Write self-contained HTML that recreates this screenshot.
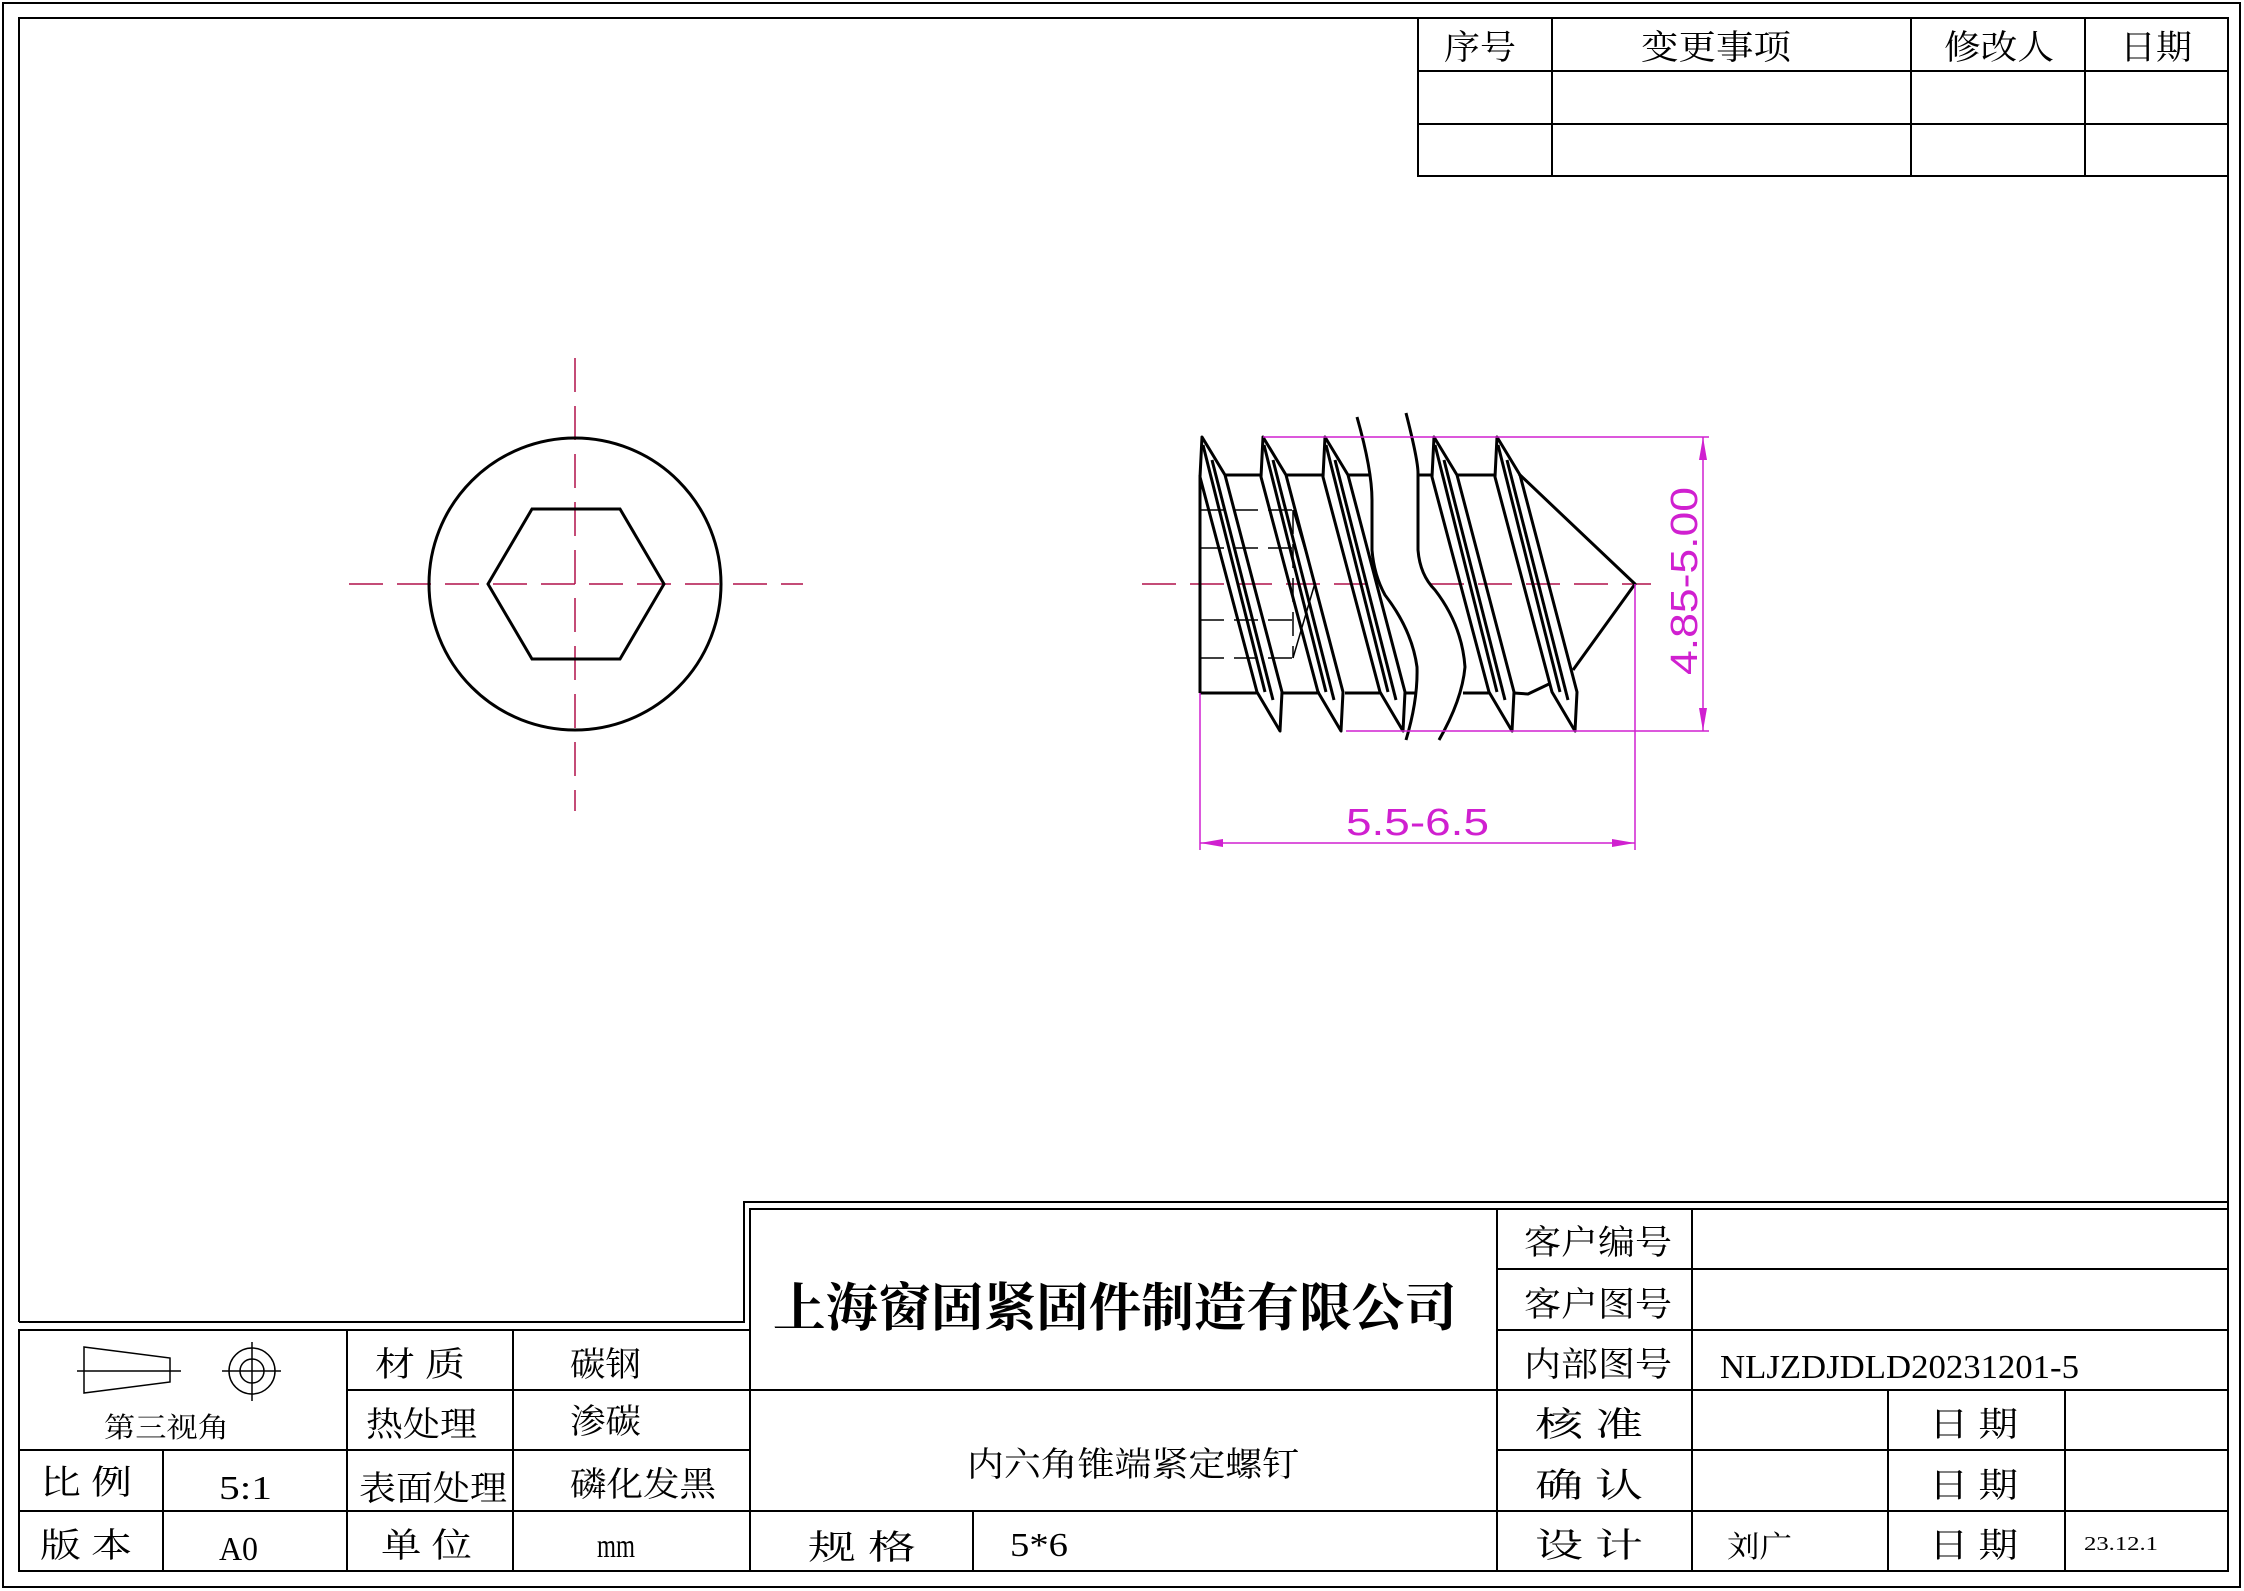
<!DOCTYPE html>
<html><head><meta charset="utf-8"><style>
html,body{margin:0;padding:0;background:#fff;}
svg{display:block;}
text{font-family:"Liberation Serif","Noto Serif CJK SC",serif;fill:#000;}
</style></head><body>
<svg width="2244" height="1591" viewBox="0 0 2244 1591" xmlns="http://www.w3.org/2000/svg">
<rect width="2244" height="1591" fill="#fff"/>
<g fill="none" stroke="#000" stroke-width="2">
<rect x="3" y="3" width="2237" height="1584"/>
<polyline points="19,1322 19,18 2228,18 2228,1571 19,1571 19,1330 750,1330"/>
<polyline points="19,1322 744,1322 744,1202 2228,1202"/>
<polyline points="750,1571 750,1209 2228,1209"/>
<rect x="1418" y="18" width="810" height="158"/>
<line x1="1418" y1="71" x2="2228" y2="71"/><line x1="1418" y1="124" x2="2228" y2="124"/>
<line x1="1552" y1="18" x2="1552" y2="176"/><line x1="1911" y1="18" x2="1911" y2="176"/><line x1="2085" y1="18" x2="2085" y2="176"/>
<line x1="347" y1="1390" x2="750" y2="1390"/>
<line x1="19" y1="1450" x2="750" y2="1450"/>
<line x1="1497" y1="1450" x2="2228" y2="1450"/>
<line x1="19" y1="1511" x2="2228" y2="1511"/>
<line x1="163" y1="1450" x2="163" y2="1571"/>
<line x1="347" y1="1330" x2="347" y2="1571"/>
<line x1="513" y1="1330" x2="513" y2="1571"/>
<line x1="750" y1="1390" x2="1497" y2="1390"/>
<line x1="973" y1="1511" x2="973" y2="1571"/>
<line x1="1497" y1="1209" x2="1497" y2="1571"/>
<line x1="1692" y1="1209" x2="1692" y2="1571"/>
<line x1="1497" y1="1269" x2="2228" y2="1269"/>
<line x1="1497" y1="1330" x2="2228" y2="1330"/>
<line x1="1497" y1="1390" x2="2228" y2="1390"/>
<line x1="1888" y1="1390" x2="1888" y2="1571"/>
<line x1="2065" y1="1390" x2="2065" y2="1571"/>
<polygon points="84,1347 170,1358 170,1382 84,1393" stroke-width="1.5"/>
<line x1="77" y1="1371" x2="181" y2="1371" stroke-width="1.5"/>
<circle cx="252" cy="1371" r="23" stroke-width="1.5"/>
<circle cx="252" cy="1371" r="12" stroke-width="1.5"/>
<line x1="222" y1="1371" x2="281" y2="1371" stroke-width="1.5"/>
<line x1="252" y1="1342" x2="252" y2="1401" stroke-width="1.5"/>
</g>
<g stroke="#b0104a" stroke-width="1.5" stroke-dasharray="34,14" fill="none">
<line x1="349" y1="584" x2="803" y2="584"/>
<line x1="575" y1="358" x2="575" y2="811"/>
<line x1="1142" y1="584" x2="1651" y2="584"/>
</g>
<g fill="none" stroke="#000" stroke-width="3">
<circle cx="575" cy="584" r="146"/>
<polygon points="488,584 532,509 620,509 664,584 620,659 532,659"/>
</g>
<g fill="none" stroke="#000" stroke-width="1.5">
<g stroke-dasharray="24,10">
<line x1="1200" y1="510" x2="1293" y2="510"/><line x1="1200" y1="548" x2="1293" y2="548"/>
<line x1="1200" y1="620" x2="1293" y2="620"/><line x1="1200" y1="658" x2="1293" y2="658"/>
<line x1="1293" y1="510" x2="1293" y2="658"/>
</g>
<polyline points="1293,510 1315,583 1293,658"/>
</g>
<g fill="none" stroke="#000" stroke-width="3" stroke-linejoin="round">
<line x1="1200" y1="475" x2="1200" y2="693"/>
<line x1="1224" y1="475" x2="1261" y2="475"/>
<line x1="1285" y1="475" x2="1323" y2="475"/>
<line x1="1347" y1="475" x2="1372" y2="475"/>
<line x1="1418" y1="475" x2="1432" y2="475"/>
<line x1="1456" y1="475" x2="1495" y2="475"/>
<line x1="1200" y1="693" x2="1257" y2="693"/>
<line x1="1282" y1="693" x2="1320" y2="693"/>
<line x1="1345" y1="693" x2="1381" y2="693"/>
<line x1="1406" y1="693" x2="1417" y2="693"/>
<line x1="1463" y1="693" x2="1489" y2="693"/>
<polyline points="1514,693 1528,694 1549,684"/>
<polyline points="1519,474 1635,584 1573,670"/>
<g id="t">
<polygon points="1202,437 1225,475 1282,692 1280,731 1257,692 1200,477"/>
<line x1="1203" y1="445" x2="1265" y2="692"/>
<line x1="1212" y1="460" x2="1273" y2="700"/>
</g>
<use href="#t" transform="translate(61,0)"/>
<use href="#t" transform="translate(123,0)"/>
<use href="#t" transform="translate(232,0)"/>
<use href="#t" transform="translate(295,0)"/>
</g>
<path d="M1357,417 Q1372,470 1372,500 L1372,550 Q1374,575 1385,595 Q1412,630 1417,667 Q1418,700 1406,740 L1439,740 Q1462,700 1465,667 Q1462,625 1435,590 Q1420,575 1418,550 L1418,473 Q1418,460 1406,413 Z" fill="#fff" stroke="none"/>
<g fill="none" stroke="#000" stroke-width="3">
<path d="M1357,417 Q1372,470 1372,500 L1372,550 Q1374,575 1385,595 Q1412,630 1417,667 Q1418,700 1406,740"/>
<path d="M1406,413 Q1418,460 1418,473 L1418,550 Q1420,575 1435,590 Q1462,625 1465,667 Q1462,700 1439,740"/>
</g>
<g stroke="#d020d0" stroke-width="1.5" fill="none">
<line x1="1263" y1="437" x2="1709" y2="437"/>
<line x1="1346" y1="731" x2="1709" y2="731"/>
<line x1="1703" y1="437" x2="1703" y2="731"/>
<line x1="1200" y1="693" x2="1200" y2="850"/>
<line x1="1635" y1="584" x2="1635" y2="850"/>
<line x1="1200" y1="843" x2="1635" y2="843"/>
</g>
<g fill="#d020d0">
<polygon points="1703,437 1699,460 1707,460"/>
<polygon points="1703,731 1699,708 1707,708"/>
<polygon points="1200,843 1223,839 1223,847"/>
<polygon points="1635,843 1612,839 1612,847"/>
</g>
<text x="1346" y="835" font-size="38" style="fill:#d020d0;font-family:'Liberation Sans',sans-serif" textLength="143" lengthAdjust="spacingAndGlyphs">5.5-6.5</text>
<text transform="translate(1697,675) rotate(-90)" font-size="38" style="fill:#d020d0;font-family:'Liberation Sans',sans-serif" textLength="188" lengthAdjust="spacingAndGlyphs">4.85-5.00</text>
<g font-size="34" style="font-family:'Liberation Serif','Noto Serif CJK SC',serif">
<text x="1444" y="59" textLength="72" lengthAdjust="spacingAndGlyphs">序号</text>
<text x="1641" y="59" textLength="150" lengthAdjust="spacingAndGlyphs">变更事项</text>
<text x="1944" y="59" textLength="110" lengthAdjust="spacingAndGlyphs">修改人</text>
<text x="2120" y="59" textLength="72" lengthAdjust="spacingAndGlyphs">日期</text>
<text x="375" y="1376" textLength="90" lengthAdjust="spacingAndGlyphs">材 质</text>
<text x="570" y="1376" textLength="71" lengthAdjust="spacingAndGlyphs">碳钢</text>
<text x="366" y="1436" textLength="111" lengthAdjust="spacingAndGlyphs">热处理</text>
<text x="570" y="1433" textLength="71" lengthAdjust="spacingAndGlyphs">渗碳</text>
<text x="104" y="1437" font-size="28" textLength="125" lengthAdjust="spacingAndGlyphs">第三视角</text>
<text x="40" y="1494" textLength="92" lengthAdjust="spacingAndGlyphs">比 例</text>
<text x="219" y="1499" textLength="53" lengthAdjust="spacingAndGlyphs">5:1</text>
<text x="359" y="1500" textLength="148" lengthAdjust="spacingAndGlyphs">表面处理</text>
<text x="570" y="1496" textLength="146" lengthAdjust="spacingAndGlyphs">磷化发黑</text>
<text x="40" y="1557" textLength="92" lengthAdjust="spacingAndGlyphs">版 本</text>
<text x="219" y="1560" textLength="39" lengthAdjust="spacingAndGlyphs">A0</text>
<text x="381" y="1557" textLength="91" lengthAdjust="spacingAndGlyphs">单 位</text>
<text x="597" y="1557" textLength="38" lengthAdjust="spacingAndGlyphs">mm</text>
<text x="808" y="1559" textLength="108" lengthAdjust="spacingAndGlyphs">规  格</text>
<text x="1010" y="1556" textLength="58" lengthAdjust="spacingAndGlyphs">5*6</text>
<text x="967" y="1476" textLength="332" lengthAdjust="spacingAndGlyphs">内六角锥端紧定螺钉</text>
<text x="773" y="1326" font-size="52" font-weight="bold" textLength="684" lengthAdjust="spacingAndGlyphs">上海窗固紧固件制造有限公司</text>
<text x="1524" y="1254" textLength="148" lengthAdjust="spacingAndGlyphs">客户编号</text>
<text x="1524" y="1316" textLength="148" lengthAdjust="spacingAndGlyphs">客户图号</text>
<text x="1524" y="1376" textLength="148" lengthAdjust="spacingAndGlyphs">内部图号</text>
<text x="1720" y="1378" textLength="359" lengthAdjust="spacingAndGlyphs">NLJZDJDLD20231201-5</text>
<text x="1535" y="1436" textLength="108" lengthAdjust="spacingAndGlyphs">核  准</text>
<text x="1929" y="1436" textLength="89" lengthAdjust="spacingAndGlyphs">日 期</text>
<text x="1535" y="1497" textLength="108" lengthAdjust="spacingAndGlyphs">确  认</text>
<text x="1929" y="1497" textLength="89" lengthAdjust="spacingAndGlyphs">日 期</text>
<text x="1535" y="1557" textLength="108" lengthAdjust="spacingAndGlyphs">设  计</text>
<text x="1929" y="1557" textLength="89" lengthAdjust="spacingAndGlyphs">日 期</text>
<text x="1727" y="1557" font-size="30" textLength="65" lengthAdjust="spacingAndGlyphs">刘广</text>
<text x="2084" y="1550" font-size="20" textLength="74" lengthAdjust="spacingAndGlyphs">23.12.1</text>
</g>
</svg>
</body></html>
